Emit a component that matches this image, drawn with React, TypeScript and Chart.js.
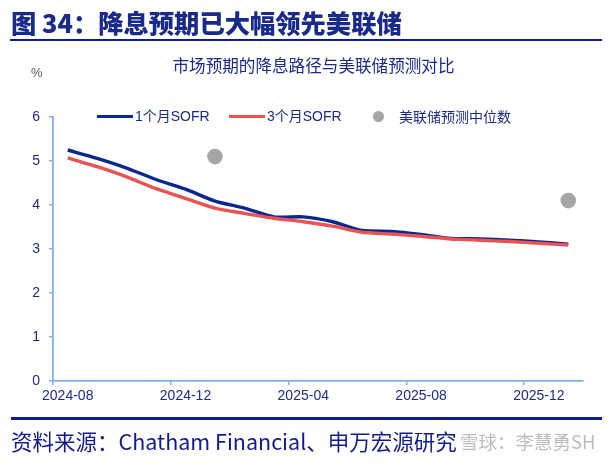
import React, { useEffect, useRef } from 'react';
import { Chart, registerables } from 'chart.js';

Chart.register(...registerables);

const months = [
  '2024-08', '2024-09', '2024-10', '2024-11', '2024-12', '2025-01',
  '2025-02', '2025-03', '2025-04', '2025-05', '2025-06', '2025-07',
  '2025-08', '2025-09', '2025-10', '2025-11', '2025-12', '2026-01',
];
const sofr1m = [5.25, 5.06, 4.84, 4.58, 4.36, 4.09, 3.93, 3.73, 3.73, 3.62, 3.42, 3.40, 3.33, 3.24, 3.23, 3.20, 3.16, 3.11];
const sofr3m = [5.07, 4.87, 4.64, 4.37, 4.15, 3.93, 3.81, 3.70, 3.62, 3.52, 3.38, 3.34, 3.29, 3.23, 3.20, 3.17, 3.13, 3.09];
const fedMedian = [null, null, null, null, null, 5.1, null, null, null, null, null, null, null, null, null, null, null, 4.1];
const yTicks = [0, 1, 2, 3, 4, 5, 6];

const BLUE = '#0a2690';
const RED = '#ec5252';
const GREY = '#a6a6a6';
const AXIS = '#80b0e6';
const NAVY = '#1a2a8a';
const LATIN = '"Liberation Sans", "Noto Sans CJK SC", sans-serif';
const CJK = '"Noto Sans CJK SC", "Liberation Sans", sans-serif';

export default function App() {
  const ref = useRef<HTMLCanvasElement | null>(null);

  useEffect(() => {
    if (!ref.current) return;
    const chart = new Chart(ref.current, {
      type: 'line',
      data: {
        labels: months,
        datasets: [
          {
            label: '1个月SOFR',
            data: sofr1m,
            borderColor: BLUE,
            backgroundColor: BLUE,
            borderWidth: 3.4,
            pointRadius: 0,
            tension: 0.2,
            order: 2,
          },
          {
            label: '3个月SOFR',
            data: sofr3m,
            borderColor: RED,
            backgroundColor: RED,
            borderWidth: 3.4,
            pointRadius: 0,
            tension: 0.2,
            order: 1,
          },
          {
            label: '美联储预测中位数',
            data: fedMedian as any,
            showLine: false,
            borderColor: GREY,
            backgroundColor: GREY,
            pointRadius: 7.8,
            pointBorderWidth: 0,
            order: 0,
          },
        ],
      },
      options: {
        responsive: false,
        animation: false,
        devicePixelRatio: 1,
        layout: { padding: { top: 117, right: 29, left: 0, bottom: 0 } },
        plugins: {
          legend: { display: false },
          tooltip: { enabled: false },
          title: { display: false },
        },
        scales: {
          x: {
            type: 'category',
            offset: true,
            grid: {
              offset: true,
              drawOnChartArea: false,
              tickLength: 4,
              lineWidth: 1.5,
              color: (ctx: any) => (ctx.index % 4 === 0 ? AXIS : 'rgba(0,0,0,0)'),
            },
            border: { color: AXIS, width: 1.8 },
            ticks: {
              autoSkip: false,
              maxRotation: 0,
              minRotation: 0,
              padding: 3,
              color: NAVY,
              font: { family: LATIN, size: 14 },
              callback: (_v: any, i: number) => (i % 4 === 0 ? months[i] : ''),
            },
            afterFit: (s: any) => {
              s.height = 82;
            },
          },
          y: {
            min: yTicks[0],
            max: yTicks[yTicks.length - 1],
            grid: {
              drawOnChartArea: false,
              tickLength: 4,
              lineWidth: 1.5,
              color: AXIS,
            },
            border: { color: AXIS, width: 1.8 },
            ticks: {
              stepSize: 1,
              padding: 9,
              color: NAVY,
              font: { family: LATIN, size: 14 },
            },
            afterFit: (s: any) => {
              s.width = 53;
            },
          },
        },
      },
    });
    return () => chart.destroy();
  }, []);

  const abs = (style: React.CSSProperties): React.CSSProperties => ({ position: 'absolute', whiteSpace: 'nowrap', ...style });

  return (
    <div style={{ position: 'absolute', left: 0, top: 0, width: 612, height: 463, background: '#fff', overflow: 'hidden' }}>
      <canvas ref={ref} width={612} height={463} style={abs({ left: 0, top: 0, width: 612, height: 463 })} />
      <div style={abs({ left: 11, top: 6, height: 32, lineHeight: '32px', fontFamily: CJK, fontWeight: 900, fontSize: 25.3, color: NAVY })}>
        图 34：降息预期已大幅领先美联储
      </div>
      <div style={abs({ left: 10, top: 38.5, width: 592, height: 2.5, background: '#0b1e8e' })} />
      <div style={abs({ left: 0, width: 627, top: 54, height: 22, lineHeight: '22px', textAlign: 'center', fontFamily: CJK, fontSize: 16.6, color: NAVY })}>
        市场预期的降息路径与美联储预测对比
      </div>
      <div style={abs({ left: 31, top: 65, height: 16, lineHeight: '16px', fontFamily: LATIN, fontSize: 13, color: '#555' })}>%</div>

      <div style={abs({ left: 97, top: 114.5, width: 36, height: 3, background: BLUE })} />
      <div style={abs({ left: 135, top: 107, height: 18, lineHeight: '18px', fontFamily: LATIN, fontSize: 14, color: NAVY })}>1个月SOFR</div>
      <div style={abs({ left: 229, top: 114.5, width: 36, height: 3, background: RED })} />
      <div style={abs({ left: 267, top: 107, height: 18, lineHeight: '18px', fontFamily: LATIN, fontSize: 14, color: NAVY })}>3个月SOFR</div>
      <div style={abs({ left: 372.5, top: 110.5, width: 11, height: 11, borderRadius: '50%', background: GREY })} />
      <div style={abs({ left: 399, top: 107, height: 18, lineHeight: '18px', fontFamily: CJK, fontSize: 14, color: NAVY })}>美联储预测中位数</div>

      <div style={abs({ left: 11, top: 417, width: 591, height: 2.5, background: '#0b1e8e' })} />
      <div style={abs({ left: 11, top: 426, height: 30, lineHeight: '30px', fontFamily: CJK, fontSize: 21.5, color: '#101c8c' })}>
        资料来源：Chatham Financial、申万宏源研究
      </div>
      <div style={abs({ left: 460, top: 429, height: 24, lineHeight: '24px', fontFamily: CJK, fontSize: 18.5, color: 'rgba(160,160,160,0.7)' })}>
        雪球：李慧勇SH
      </div>
    </div>
  );
}
